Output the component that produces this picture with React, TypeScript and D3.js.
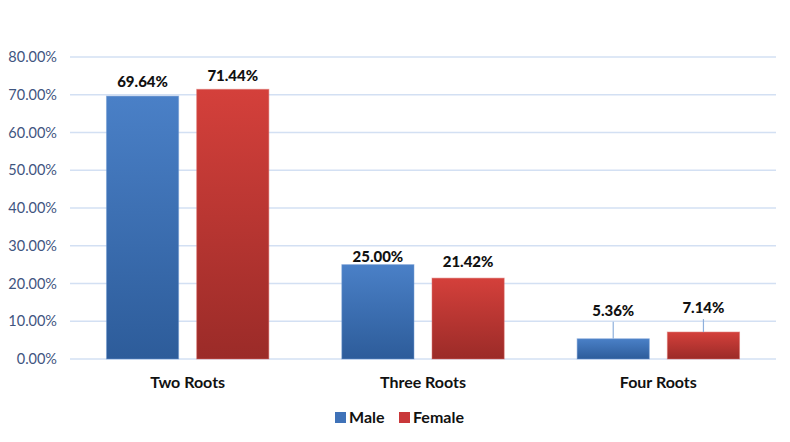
import { useEffect, useRef } from 'react';
import * as d3 from 'd3';

const W = 790;
const H = 442;

const categories = ['Two Roots', 'Three Roots', 'Four Roots'];
const seriesNames = ['Male', 'Female'];
const male = [69.64, 25.0, 5.36];
const female = [71.44, 21.42, 7.14];
const yTicks = [0, 10, 20, 30, 40, 50, 60, 70, 80];

// how far each value label sits above its bar (px), per category / series
const LABEL_LIFT = [
  [9, 8],
  [3, 11],
  [23, 19],
];

const FONT = 'Lato, "Open Sans", sans-serif';
const TICK_INK = '#3f557f';
const GRID = '#d3e0f3';

export default function App() {
  const ref = useRef<SVGSVGElement>(null);

  useEffect(() => {
    const svg = d3.select(ref.current);
    if (!svg.node()) return;
    svg.selectAll('*').remove();

    const margin = { top: 57, right: 14, bottom: 83, left: 70 };
    const y = d3.scaleLinear().domain([0, 80]).range([H - margin.bottom, margin.top]);
    const x0 = d3
      .scaleBand()
      .domain(categories)
      .range([margin.left, W - margin.right])
      .paddingInner(0.31)
      .paddingOuter(0.155);
    const x1 = d3.scaleBand().domain(seriesNames).range([0, x0.bandwidth()]).paddingInner(0.2);

    const defs = svg.append('defs');
    const grads = [
      { id: 'gMale', top: '#4a80c7', bottom: '#2d5c9a' },
      { id: 'gFemale', top: '#d4403b', bottom: '#9b2b28' },
    ];
    grads.forEach((g) => {
      const lg = defs.append('linearGradient').attr('id', g.id).attr('x1', 0).attr('y1', 0).attr('x2', 0).attr('y2', 1);
      lg.append('stop').attr('offset', '0%').attr('stop-color', g.top);
      lg.append('stop').attr('offset', '100%').attr('stop-color', g.bottom);
    });

    svg
      .append('g')
      .selectAll('line')
      .data(yTicks)
      .join('line')
      .attr('x1', margin.left)
      .attr('x2', W - margin.right)
      .attr('y1', (d) => y(d))
      .attr('y2', (d) => y(d))
      .attr('stroke', GRID)
      .attr('stroke-width', 1.3);

    svg
      .append('g')
      .selectAll('text')
      .data(yTicks)
      .join('text')
      .attr('x', 57)
      .attr('y', (d) => y(d) + 5)
      .attr('text-anchor', 'end')
      .attr('font-family', FONT)
      .attr('font-size', 14.5)
      .attr('fill', TICK_INK)
      .text((d) => `${d.toFixed(2)}%`);

    const rows = categories.flatMap((c, i) => [
      { cat: c, i, s: 0, name: seriesNames[0], v: male[i] },
      { cat: c, i, s: 1, name: seriesNames[1], v: female[i] },
    ]);

    const bars = svg.append('g');
    bars
      .selectAll('rect')
      .data(rows)
      .join('rect')
      .attr('x', (d) => x0(d.cat)! + x1(d.name)!)
      .attr('width', x1.bandwidth())
      .attr('y', (d) => y(d.v))
      .attr('height', (d) => y(0) - y(d.v))
      .attr('fill', (d) => (d.s === 0 ? 'url(#gMale)' : 'url(#gFemale)'))
      .attr('stroke', (d) => (d.s === 0 ? '#6f9ad3' : '#dc6b67'))
      .attr('stroke-opacity', 0.5)
      .attr('stroke-width', 1);

    const labels = svg.append('g');
    rows.forEach((d) => {
      const cx = x0(d.cat)! + x1(d.name)! + x1.bandwidth() / 2;
      const lift = LABEL_LIFT[d.i][d.s];
      const by = y(d.v) - lift;
      if (lift > 15) {
        labels
          .append('line')
          .attr('x1', cx)
          .attr('x2', cx)
          .attr('y1', by + 6)
          .attr('y2', y(d.v))
          .attr('stroke', '#8eb0dc')
          .attr('stroke-width', 1.2);
      }
      labels
        .append('text')
        .attr('x', cx)
        .attr('y', by)
        .attr('text-anchor', 'middle')
        .attr('font-family', FONT)
        .attr('font-weight', 900)
        .attr('font-size', 15)
        .attr('fill', '#111')
        .text(`${d.v.toFixed(2)}%`);
    });

    svg
      .append('g')
      .selectAll('text')
      .data(categories)
      .join('text')
      .attr('x', (d) => x0(d)! + x0.bandwidth() / 2)
      .attr('y', 388)
      .attr('text-anchor', 'middle')
      .attr('font-family', FONT)
      .attr('font-weight', 700)
      .attr('font-size', 16)
      .attr('fill', '#111')
      .text((d) => d);

    const legend = svg.append('g');
    const items = [
      { name: seriesNames[0], color: '#3f72b8', x: 335 },
      { name: seriesNames[1], color: '#c9383a', x: 399 },
    ];
    items.forEach((it) => {
      legend.append('rect').attr('x', it.x).attr('y', 412).attr('width', 11).attr('height', 11).attr('fill', it.color);
      legend
        .append('text')
        .attr('x', it.x + 14)
        .attr('y', 423)
        .attr('font-family', FONT)
        .attr('font-weight', 700)
        .attr('font-size', 16)
        .attr('fill', '#111')
        .text(it.name);
    });
  }, []);

  return (
    <svg
      ref={ref}
      width={W}
      height={H}
      style={{ position: 'absolute', left: 0, top: 0, background: '#fff' }}
    />
  );
}
